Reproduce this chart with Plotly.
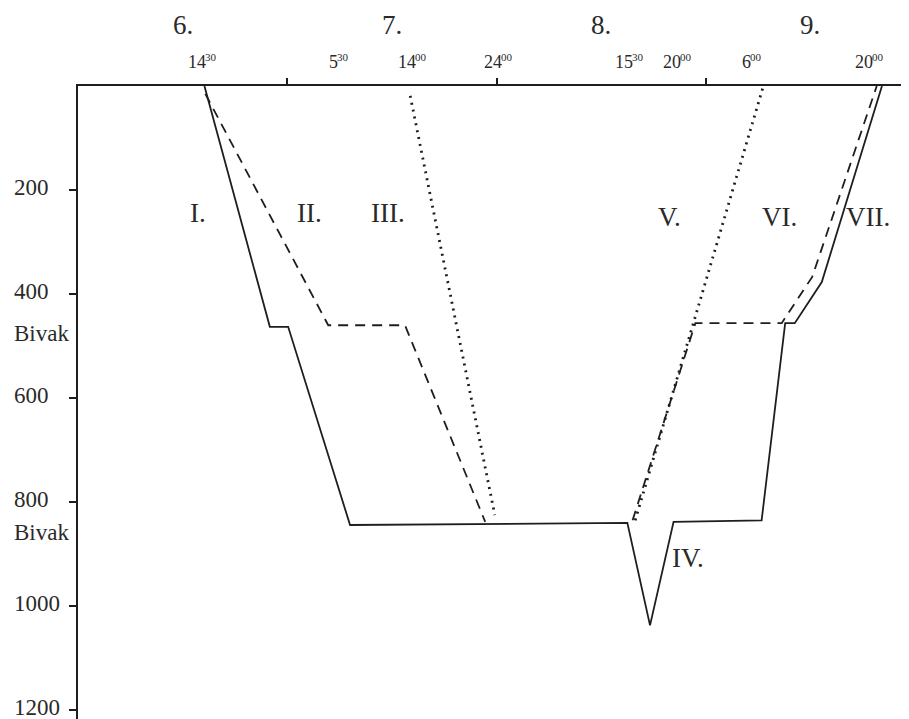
import plotly.graph_objects as go

# ---- data (x = hours since day 6, 00:00 ; y = depth in metres) ----
solid_h = [14.5, 22.0, 24.1, 31.2, 63.0, 65.6, 68.3, 78.4, 81.1, 82.2, 85.3, 92.2]
solid_d = [0, 463, 463, 844, 840, 1037, 838, 835, 456, 456, 377, 0]

dashed2_h = [14.6, 28.7, 37.5, 46.7]
dashed2_d = [15, 460, 460, 838]

dotted3_h = [38.1, 47.8]
dotted3_d = [19, 825]

dotted5_h = [63.9, 78.6]
dotted5_d = [835, 0]

dashed6_h = [63.6, 70.8, 80.7, 84.2, 91.6]
dashed6_d = [835, 456, 456, 367, 0]

depth_ticks = [200, 400, 600, 800, 1000, 1200]
depth_tick_labels = ["200", "400", "600", "800", "1000", "1200"]
bivak_depths = [475, 858]

midnight_ticks = [24, 48, 72]
day_labels = ["6.", "7.", "8.", "9."]
day_noons = [12, 36, 60, 84]
time_marks = [14.5, 29.5, 38, 48, 63.5, 68, 78, 92]
time_hours = ["14", "5", "14", "24", "15", "20", "6", "20"]
time_minutes = ["30", "30", "00", "00", "30", "00", "00", "00"]
time_shift = [3, 4, 8, 6, 2, 11, -6, -6]

stage_labels = ["I.", "II.", "III.", "IV.", "V.", "VI.", "VII."]
stage_h = [13.8, 26.5, 35.6, 69.9, 67.8, 80.4, 90.6]
stage_d = [244, 244, 244, 907, 252, 252, 252]

INK = "#1e1e1e"
TXT = "#2a2a2a"
FONT = "Liberation Serif"

fig = go.Figure()
line_specs = [
    (solid_h, solid_d, "solid", 1.8),
    (dashed2_h, dashed2_d, "10px,7px", 1.8),
    (dotted3_h, dotted3_d, "2px,5px", 2.8),
    (dotted5_h, dotted5_d, "2px,5px", 2.8),
    (dashed6_h, dashed6_d, "10px,7px", 1.8),
]
for xs, ys, dash, w in line_specs:
    fig.add_trace(go.Scatter(x=xs, y=ys, mode="lines",
                             line=dict(color=INK, width=w, dash=dash),
                             hoverinfo="skip", showlegend=False, cliponaxis=False))

ann = []
for v, t in zip(depth_ticks, depth_tick_labels):
    ann.append(dict(x=-0.0794, xref="paper", y=v, yref="y", text=t, showarrow=False,
                    xanchor="left", yanchor="middle", yshift=3,
                    font=dict(family=FONT, size=23, color=TXT)))
for v in bivak_depths:
    ann.append(dict(x=-0.0794, xref="paper", y=v, yref="y", text="Bivak", showarrow=False,
                    xanchor="left", yanchor="middle",
                    font=dict(family=FONT, size=23, color=TXT)))
for x, t in zip(day_noons, day_labels):
    ann.append(dict(x=x, y=1.097, xref="x", yref="paper", text=t, showarrow=False,
                    xanchor="center", yanchor="middle",
                    font=dict(family=FONT, size=27, color=TXT)))
for x, hh, mm, s in zip(time_marks, time_hours, time_minutes, time_shift):
    ann.append(dict(x=x, y=1.019, xref="x", yref="paper", text=hh, showarrow=False,
                    xanchor="right", yanchor="bottom", xshift=s + 1,
                    font=dict(family=FONT, size=18, color=TXT)))
    ann.append(dict(x=x, y=1.033, xref="x", yref="paper", text=mm, showarrow=False,
                    xanchor="left", yanchor="bottom", xshift=s - 4,
                    font=dict(family=FONT, size=11, color=TXT)))
for x, y, t in zip(stage_h, stage_d, stage_labels):
    ann.append(dict(x=x, y=y, xref="x", yref="y", text=t, showarrow=False,
                    xanchor="center", yanchor="middle",
                    font=dict(family=FONT, size=27, color=TXT)))

fig.update_layout(
    width=901, height=711,
    margin=dict(l=70, r=0, t=78, b=0, pad=0),
    paper_bgcolor="white", plot_bgcolor="white",
    annotations=ann,
    xaxis=dict(range=[0, 95.3], side="top", showline=True, linecolor=INK, linewidth=1.6,
               showgrid=False, zeroline=False, ticks="outside", tickvals=midnight_ticks,
               ticklen=6, tickwidth=1.6, tickcolor=INK, showticklabels=False, fixedrange=True),
    yaxis=dict(range=[1217, 0], showline=True, linecolor=INK, linewidth=1.6,
               showgrid=False, zeroline=False, ticks="outside", tickvals=depth_ticks,
               ticklen=7, tickwidth=1.6, tickcolor=INK, showticklabels=False, fixedrange=True),
)
fig.write_html("out.html")
